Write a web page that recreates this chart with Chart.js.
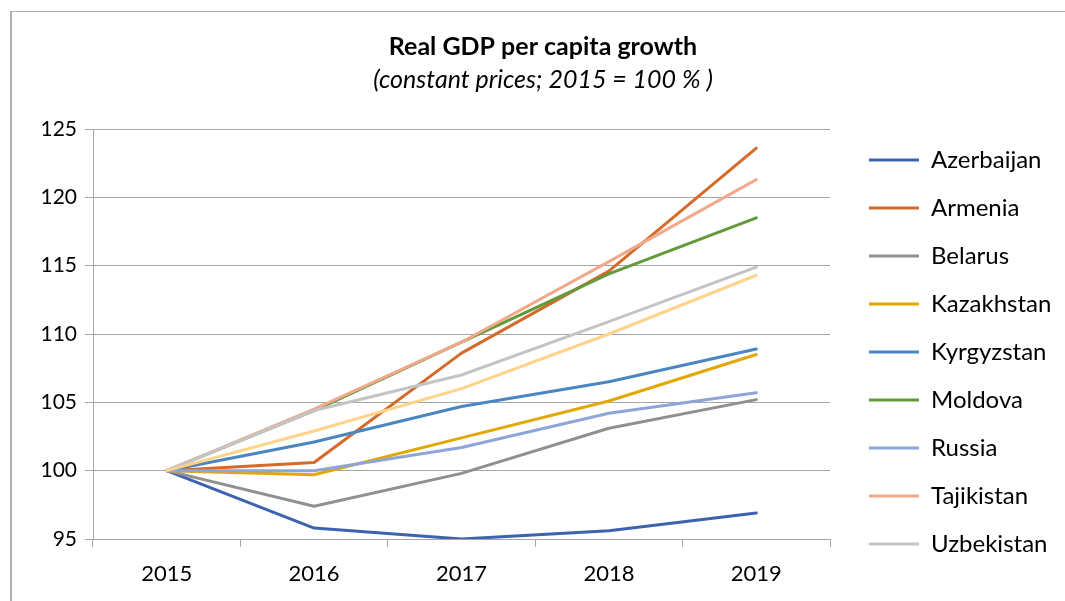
<!DOCTYPE html>
<html>
<head>
<meta charset="utf-8">
<title>Real GDP per capita growth</title>
<script src="https://cdn.jsdelivr.net/npm/chart.js@4"></script>
<style>
  html, body { margin: 0; padding: 0; background: #fff; overflow: hidden; }
  #frame {
    position: absolute; left: 10px; top: 11px; width: 1200px; height: 700px;
    border-left: 2px solid #b0b0b0; border-top: 1px solid #b0b0b0;
  }
  #wrap { position: absolute; left: 0; top: 0; width: 1065px; height: 601px; }
</style>
</head>
<body>
<div id="frame"></div>
<div id="wrap"><canvas id="gdpChart" width="1065" height="601"></canvas></div>
<script>
// Index of real GDP per capita, 2015 = 100
const years = ['2015', '2016', '2017', '2018', '2019'];

const azerbaijan = [100, 95.8, 95.0, 95.6, 96.9];
const armenia    = [100, 100.6, 108.6, 114.6, 123.6];
const belarus    = [100, 97.4, 99.8, 103.1, 105.2];
const kazakhstan = [100, 99.7, 102.4, 105.1, 108.5];
const kyrgyzstan = [100, 102.1, 104.7, 106.5, 108.9];
const moldova    = [100, 104.4, 109.4, 114.4, 118.5];
const russia     = [100, 100.0, 101.7, 104.2, 105.7];
const tajikistan = [100, 104.5, 109.4, 115.3, 121.3];
const uzbekistan = [100, 104.4, 107.0, 110.9, 114.9];
const ukraine    = [100, 102.9, 106.0, 110.0, 114.3];

const countries = ['Azerbaijan', 'Armenia', 'Belarus', 'Kazakhstan', 'Kyrgyzstan',
                   'Moldova', 'Russia', 'Tajikistan', 'Uzbekistan', 'Ukraine'];
const series = [azerbaijan, armenia, belarus, kazakhstan, kyrgyzstan,
                moldova, russia, tajikistan, uzbekistan, ukraine];
const colors = ['#3d62b0', '#d46b2a', '#909090', '#e3a800', '#4a86c0',
                '#62993a', '#8ea5d8', '#f0a98a', '#c4c4c4', '#ffd48a'];

const yTicks = [95, 100, 105, 110, 115, 120, 125];

const FONT = 'Lato';
const gridGray = '#a6a6a6';

// later series are painted over earlier ones
const datasets = countries.map(function(name, i) {
    return {
        label: name,
        data: series[i],
        borderColor: colors[i],
        backgroundColor: colors[i],
        borderWidth: 3,
        borderCapStyle: 'round',
        borderJoinStyle: 'round',
        pointRadius: 0,
        tension: 0,
        fill: false,
        order: -i
    };
});

// legend column sits beside the plot, headings centred over the plot + legend
const layoutNudge = {
    id: 'layoutNudge',
    afterLayout: function(chart) {
        const lg = chart.legend;
        if (lg) {
            lg.left += 15; lg.right += 15;
            lg.top += 124; lg.bottom += 124;
        }
        chart.boxes.forEach(function(b) {
            if (b.position === 'top' && b.options && typeof b.options.text === 'string') {
                b.left += 25.5; b.right += 25.5;
            }
        });
    }
};

var ctx = document.getElementById('gdpChart').getContext('2d');
var gdpChart = new Chart(ctx, {
    type: 'line',
    data: { labels: years, datasets: datasets },
    plugins: [layoutNudge],
    options: {
        responsive: false,
        animation: false,
        layout: { padding: { left: 0, right: 30, top: 0, bottom: 0 } },
        plugins: {
            title: {
                display: true,
                text: 'Real GDP per capita growth',
                color: '#000',
                font: { family: FONT, size: 25, weight: 'bold', lineHeight: 1.2 },
                padding: { top: 32, bottom: 0 }
            },
            subtitle: {
                display: true,
                text: '(constant prices; 2015 = 100 % )',
                color: '#000',
                font: { family: FONT, size: 25, style: 'italic', lineHeight: 1.2 },
                padding: { top: 3, bottom: 34 }
            },
            legend: {
                position: 'right',
                align: 'start',
                maxWidth: 205,
                labels: {
                    usePointStyle: true,
                    pointStyle: 'line',
                    pointStyleWidth: 50,
                    padding: 24,
                    color: '#000',
                    font: { family: FONT, size: 24 },
                    filter: function(item) { return item.text !== 'Ukraine'; },
                    sort: function(a, b) { return a.datasetIndex - b.datasetIndex; }
                }
            },
            tooltip: { enabled: false }
        },
        scales: {
            x: {
                offset: true,
                grid: {
                    offset: true,
                    drawOnChartArea: false,
                    drawTicks: true,
                    tickLength: 8,
                    tickColor: gridGray
                },
                border: { display: true, color: gridGray, width: 1 },
                ticks: {
                    color: '#000',
                    padding: 14,
                    font: { family: FONT, size: 22 }
                },
                afterFit: function(scale) { scale.height = 62; }
            },
            y: {
                min: 95,
                max: 125,
                afterBuildTicks: function(scale) {
                    scale.ticks = yTicks.map(function(v) { return { value: v }; });
                },
                grid: {
                    color: gridGray,
                    lineWidth: 1,
                    drawTicks: true,
                    tickLength: 8,
                    tickColor: gridGray
                },
                border: { display: true, color: gridGray, width: 1 },
                ticks: {
                    color: '#000',
                    padding: 8,
                    font: { family: FONT, size: 21 }
                },
                afterFit: function(scale) { scale.width = 93; }
            }
        }
    }
});
</script>
</body>
</html>
